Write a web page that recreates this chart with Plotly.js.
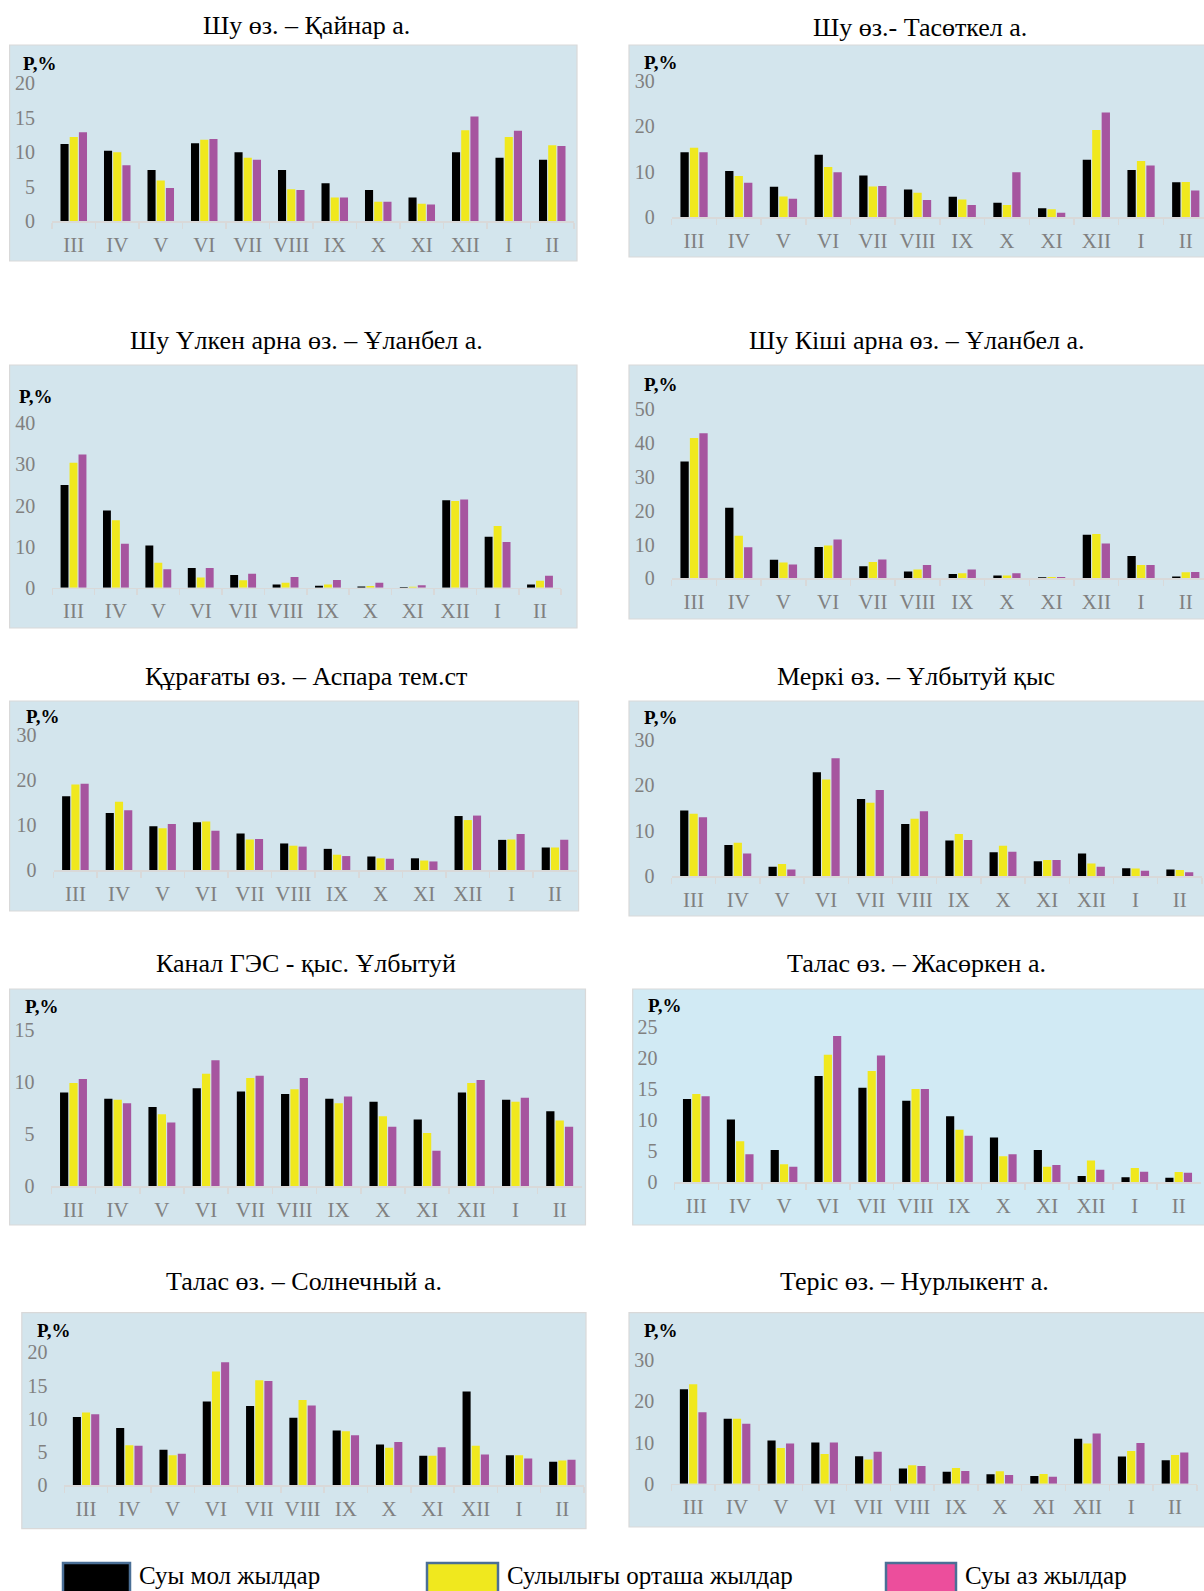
<!DOCTYPE html>
<html><head><meta charset="utf-8">
<script src="https://cdn.plot.ly/plotly-3.0.1.min.js"></script>
<style>html,body{margin:0;padding:0;background:#fff}#chart{width:1204px;height:1591px}</style>
</head><body><div id="chart"></div>
<script>
const months = ['III','IV','V','VI','VII','VIII','IX','X','XI','XII','I','II'];
const seriesNames = ['Суы мол жылдар','Сулылығы орташа жылдар','Суы аз жылдар'];
const stationTitles = [
  'Шу өз. – Қайнар а.',
  'Шу өз.- Тасөткел а.',
  'Шу Үлкен арна өз. – Ұланбел а.',
  'Шу Кіші арна өз. – Ұланбел а.',
  'Құрағаты өз. – Аспара тем.ст',
  'Меркі өз. – Ұлбытуй қыс',
  'Канал ГЭС - қыс. Ұлбытуй',
  'Талас өз. – Жасөркен а.',
  'Талас өз. – Солнечный а.',
  'Теріс өз. – Нурлыкент а.'
];
const yLabel = 'P,%';

// 1 Шу – Қайнар
const kainarHigh = [11.2,10.2,7.4,11.3,10.0,7.4,5.5,4.5,3.4,10.0,9.2,8.9];
const kainarMid  = [12.2,10.0,5.9,11.8,9.2,4.6,3.4,2.8,2.5,13.2,12.2,11.0];
const kainarLow  = [12.9,8.1,4.8,11.9,8.9,4.5,3.4,2.8,2.4,15.2,13.1,10.9];
// 2 Шу – Тасөткел
const tasotkelHigh = [14.3,10.2,6.7,13.8,9.2,6.1,4.5,3.2,2.0,12.7,10.4,7.7];
const tasotkelMid  = [15.3,9.1,4.6,11.1,6.8,5.4,3.9,2.7,1.8,19.2,12.4,7.8];
const tasotkelLow  = [14.3,7.6,4.1,9.9,6.9,3.8,2.7,9.9,1.0,23.1,11.4,5.9];
// 3 Шу Үлкен арна – Ұланбел
const ulkenHigh = [25.0,18.8,10.3,4.8,3.1,0.8,0.5,0.3,0.15,21.3,12.4,0.8];
const ulkenMid  = [30.4,16.4,6.1,2.5,1.8,1.2,0.8,0.4,0.25,21.1,15.0,1.7];
const ulkenLow  = [32.4,10.7,4.5,4.8,3.4,2.6,1.9,1.2,0.6,21.5,11.1,2.9];
// 4 Шу Кіші арна – Ұланбел
const kishiHigh = [34.6,20.9,5.5,9.3,3.6,2.0,1.3,0.8,0.3,12.9,6.6,0.5];
const kishiMid  = [41.5,12.6,4.7,9.7,4.8,2.6,1.5,0.8,0.4,13.1,3.9,1.8];
const kishiLow  = [42.9,9.2,4.1,11.5,5.6,3.9,2.6,1.5,0.4,10.3,3.9,1.9];
// 5 Құрағаты – Аспара
const kuragatyHigh = [16.4,12.7,9.7,10.6,8.1,5.9,4.7,3.0,2.6,12.0,6.7,5.0];
const kuragatyMid  = [19.0,15.2,9.3,10.8,6.8,5.4,3.4,2.6,2.1,11.1,6.8,5.0];
const kuragatyLow  = [19.2,13.3,10.2,8.7,6.9,5.2,3.1,2.5,1.9,12.1,8.0,6.7];
// 6 Меркі – Ұлбытуй
const merkiHigh = [14.5,6.9,2.1,22.9,17.0,11.5,7.9,5.3,3.3,5.0,1.8,1.5];
const merkiMid  = [13.8,7.4,2.7,21.3,16.2,12.7,9.3,6.7,3.6,2.8,1.7,1.4];
const merkiLow  = [13.0,5.0,1.5,26.0,19.0,14.3,8.0,5.4,3.6,2.1,1.2,0.9];
// 7 Канал ГЭС – Ұлбытуй
const kanalHigh = [9.0,8.4,7.6,9.4,9.1,8.85,8.4,8.1,6.4,9.0,8.3,7.2];
const kanalMid  = [9.9,8.3,6.9,10.8,10.4,9.3,7.95,6.7,5.1,9.9,8.1,6.3];
const kanalLow  = [10.3,7.95,6.1,12.1,10.6,10.4,8.6,5.7,3.4,10.2,8.5,5.7];
// 8 Талас – Жасөркен
const zhasorkenHigh = [13.4,10.1,5.2,17.1,15.2,13.1,10.6,7.2,5.2,1.0,0.8,0.75];
const zhasorkenMid  = [14.2,6.6,2.9,20.5,17.9,15.0,8.45,4.2,2.5,3.5,2.3,1.65];
const zhasorkenLow  = [13.85,4.5,2.5,23.5,20.4,15.0,7.5,4.5,2.8,2.0,1.7,1.55];
// 9 Талас – Солнечный
const solnechnyHigh = [10.25,8.6,5.3,12.6,11.9,10.15,8.2,6.1,4.4,14.1,4.5,3.5];
const solnechnyMid  = [10.95,6.0,4.5,17.1,15.8,12.8,8.1,5.6,4.4,5.9,4.5,3.7];
const solnechnyLow  = [10.65,5.9,4.7,18.5,15.7,12.0,7.5,6.5,5.7,4.6,4.0,3.8];
// 10 Теріс – Нурлыкент
const terisHigh = [23.0,15.8,10.5,10.0,6.65,3.7,2.9,2.3,1.9,10.95,6.6,5.7];
const terisMid  = [24.2,15.8,8.7,7.2,5.9,4.5,3.8,3.0,2.35,9.8,7.95,7.0];
const terisLow  = [17.4,14.6,9.8,10.0,7.8,4.3,3.1,2.1,1.7,12.2,9.9,7.6];

const stationSeries = [
  [kainarHigh,kainarMid,kainarLow],
  [tasotkelHigh,tasotkelMid,tasotkelLow],
  [ulkenHigh,ulkenMid,ulkenLow],
  [kishiHigh,kishiMid,kishiLow],
  [kuragatyHigh,kuragatyMid,kuragatyLow],
  [merkiHigh,merkiMid,merkiLow],
  [kanalHigh,kanalMid,kanalLow],
  [zhasorkenHigh,zhasorkenMid,zhasorkenLow],
  [solnechnyHigh,solnechnyMid,solnechnyLow],
  [terisHigh,terisMid,terisLow]
];
const yMax = [20,30,40,50,30,30,15,25,20,30];
const yStep = [5,10,10,10,10,10,5,5,5,10];

// ---- styling / geometry (pixels) ----
const W = 1204, H = 1591;
const barColors = ['#000000','#f0e81e','#a6559f'];
const legendColors = ['#000000','#f0e81e','#ec4e9c'];
const panelBg = '#d3e5ed';
const panels = [
 {box:[9.6,45,577,261], ax:[52,574], y0:221, yt:83.3, title:[306,26], p:[21,63]},
 {box:[629,45,1206,257], ax:[671.7,1204], step:44.7, y0:217.3, yt:81, title:[920,27], p:[642,62]},
 {box:[9.6,365,577,628], ax:[52.3,561.2], y0:587.7, yt:423.3, title:[306,341], p:[17,396]},
 {box:[629,365,1206,619], ax:[671.7,1204], step:44.7, y0:578.3, yt:409.3, title:[916,341], p:[642,384]},
 {box:[9.6,701,578.6,911], ax:[53.6,576.8], y0:870, yt:735, title:[306,676], p:[24,716]},
 {box:[629,701,1206,916], ax:[671.5,1201.9], y0:876.3, yt:740, title:[916,676], p:[642,717]},
 {box:[9.6,989,585.5,1225], ax:[51.4,581.8], y0:1186, yt:1030, title:[306,963], p:[23,1006]},
 {box:[632.7,989,1206,1225], ax:[674.4,1200.6], y0:1182.3, yt:1026.7, title:[916,963], p:[646,1005], bg:'#d1eaf4'},
 {box:[21.8,1312.7,586,1528.6], ax:[64.4,584], y0:1485, yt:1352.3, title:[304,1281], p:[35,1330.7]},
 {box:[629,1312.7,1206,1527], ax:[671.3,1196.9], y0:1483.7, yt:1360.3, title:[914,1281], p:[642,1330.7]}
];
const legendBoxes = [[63,130],[427,498],[886,956]];

const px = x => x / W;
const py = y => 1 - y / H;
const serif = 'Liberation Serif, Times New Roman, serif';

const data = [];
const layout = {
  width: W, height: H,
  margin: {l:0, r:0, t:0, b:0},
  paper_bgcolor: '#ffffff',
  plot_bgcolor: 'rgba(0,0,0,0)',
  barmode: 'group', bargap: 0.365, bargroupgap: 0.12,
  showlegend: false,
  font: {family: serif, color: '#000'},
  shapes: [], annotations: []
};

panels.forEach((p, i) => {
  const n = i + 1;
  const xa = n === 1 ? 'x' : 'x' + n;
  const ya = n === 1 ? 'y' : 'y' + n;
  stationSeries[i].forEach((vals, k) => {
    data.push({type:'bar', x: months, y: vals, name: seriesNames[k],
      marker:{color: barColors[k], line:{width:0}}, xaxis: xa, yaxis: ya,
      hoverinfo:'x+y'});
  });
  const xr = p.step ? [-0.5, -0.5 + (p.ax[1]-p.ax[0]) / p.step] : [-0.5, 11.5];
  const tv = [];
  for (let v = 0; v <= yMax[i] + 1e-9; v += yStep[i]) tv.push(v);
  layout['xaxis' + (n === 1 ? '' : n)] = {
    domain: [px(p.ax[0]), px(p.ax[1])], anchor: ya, type: 'category',
    range: xr, showline: true, linecolor: '#d9d9d9', linewidth: 1.5,
    ticks: 'outside', tickson: 'boundaries', ticklen: 6, tickcolor: '#d9d9d9', tickwidth: 1.5,
    showgrid: false, zeroline: false, fixedrange: true, tickangle: 0,
    tickfont: {family: serif, size: 21, color: '#808080'}, ticklabelstandoff: 4
  };
  layout['yaxis' + (n === 1 ? '' : n)] = {
    domain: [py(p.y0), py(p.yt)], anchor: xa,
    range: [0, yMax[i] * 1.0005], tickvals: tv, ticktext: tv.map(String),
    showline: false, showgrid: false, zeroline: false, ticks: '', fixedrange: true,
    tickfont: {family: serif, size: 20, color: '#808080'}, ticklabelstandoff: 16
  };
  layout.shapes.push({type:'rect', xref:'paper', yref:'paper', layer:'below',
    x0: px(p.box[0]), x1: px(p.box[2]), y0: py(p.box[3]), y1: py(p.box[1]),
    fillcolor: p.bg || panelBg, line:{color:'#d9d9d9', width:1.2}});
  layout.annotations.push({xref:'paper', yref:'paper', x: px(p.title[0]), y: py(p.title[1]),
    xanchor:'center', yanchor:'middle', showarrow:false, text: stationTitles[i],
    font:{family: serif, size: 26, color:'#000'}});
  layout.annotations.push({xref:'paper', yref:'paper', x: px(p.p[0]), y: py(p.p[1]),
    xanchor:'left', yanchor:'middle', showarrow:false, text: '<b>' + yLabel + '</b>',
    font:{family: serif, size: 19, color:'#000'}});
});

legendBoxes.forEach((b, k) => {
  layout.shapes.push({type:'rect', xref:'paper', yref:'paper',
    x0: px(b[0]), x1: px(b[1]), y0: py(1596), y1: py(1563),
    fillcolor: legendColors[k], line:{color:'#4a6f96', width:2.5}});
  layout.annotations.push({xref:'paper', yref:'paper', x: px(b[1] + 7), y: py(1575),
    xanchor:'left', yanchor:'middle', showarrow:false, text: seriesNames[k],
    font:{family: serif, size: 25, color:'#000'}});
});

Plotly.newPlot('chart', data, layout, {staticPlot: true, displayModeBar: false});
</script>
</body></html>
